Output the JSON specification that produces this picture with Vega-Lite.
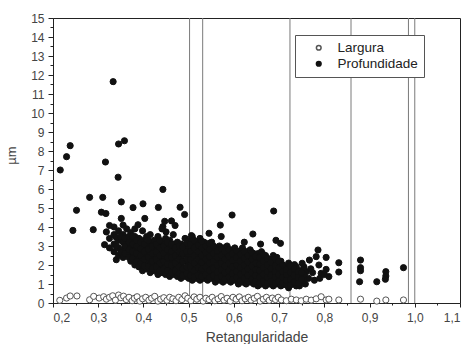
{
  "$schema": "https://vega.github.io/schema/vega-lite/v6.json",
  "width": 407,
  "height": 285,
  "autosize": {"type": "none"},
  "padding": {"left": 53, "top": 18, "right": 7, "bottom": 41},
  "config": {
    "font": "Liberation Sans",
    "view": {"stroke": "#222", "strokeWidth": 1},
    "axis": {"grid": false}
  },
  "data": {"values": [
    {"r":0.216,"v":7.0,"s":"P"},{"r":0.23,"v":7.7,"s":"P"},{"r":0.238,"v":8.28,"s":"P"},{"r":0.333,"v":11.65,"s":"P"},
    {"r":0.316,"v":7.42,"s":"P"},{"r":0.345,"v":8.37,"s":"P"},{"r":0.358,"v":8.54,"s":"P"},{"r":0.344,"v":6.62,"s":"P"},
    {"r":0.281,"v":5.56,"s":"P"},{"r":0.31,"v":5.56,"s":"P"},{"r":0.443,"v":5.98,"s":"P"},{"r":0.252,"v":4.88,"s":"P"},
    {"r":0.244,"v":3.82,"s":"P"},{"r":0.289,"v":3.86,"s":"P"},{"r":0.351,"v":5.32,"s":"P"},{"r":0.377,"v":5.02,"s":"P"},
    {"r":0.399,"v":5.22,"s":"P"},{"r":0.433,"v":5.03,"s":"P"},{"r":0.481,"v":5.04,"s":"P"},{"r":0.491,"v":4.66,"s":"P"},
    {"r":0.307,"v":4.78,"s":"P"},{"r":0.317,"v":4.71,"s":"P"},{"r":0.34,"v":2.28,"s":"P"},{"r":0.325,"v":4.08,"s":"P"},
    {"r":0.351,"v":4.45,"s":"P"},{"r":0.403,"v":4.45,"s":"P"},{"r":0.388,"v":4.12,"s":"P"},{"r":0.447,"v":4.3,"s":"P"},
    {"r":0.462,"v":4.32,"s":"P"},{"r":0.47,"v":4.08,"s":"P"},{"r":0.45,"v":3.74,"s":"P"},{"r":0.314,"v":3.07,"s":"P"},
    {"r":0.318,"v":3.74,"s":"P"},{"r":0.443,"v":4.02,"s":"P"},
    {"r":0.596,"v":4.63,"s":"P"},{"r":0.688,"v":4.84,"s":"P"},{"r":0.57,"v":4.1,"s":"P"},{"r":0.545,"v":3.67,"s":"P"},
    {"r":0.642,"v":3.63,"s":"P"},{"r":0.623,"v":3.2,"s":"P"},{"r":0.659,"v":3.1,"s":"P"},{"r":0.693,"v":3.3,"s":"P"},
    {"r":0.703,"v":3.14,"s":"P"},{"r":0.572,"v":3.5,"s":"P"},{"r":0.506,"v":3.55,"s":"P"},
    {"r":0.734,"v":2.02,"s":"P"},{"r":0.767,"v":2.26,"s":"P"},{"r":0.782,"v":2.44,"s":"P"},{"r":0.786,"v":2.79,"s":"P"},
    {"r":0.804,"v":2.4,"s":"P"},{"r":0.751,"v":2.09,"s":"P"},{"r":0.832,"v":2.12,"s":"P"},{"r":0.832,"v":1.63,"s":"P"},
    {"r":0.788,"v":2.0,"s":"P"},{"r":0.804,"v":1.77,"s":"P"},{"r":0.81,"v":1.39,"s":"P"},{"r":0.793,"v":1.56,"s":"P"},
    {"r":0.774,"v":1.6,"s":"P"},{"r":0.76,"v":1.65,"s":"P"},{"r":0.765,"v":1.3,"s":"P"},{"r":0.778,"v":1.2,"s":"P"},
    {"r":0.79,"v":1.3,"s":"P"},{"r":0.77,"v":1.8,"s":"P"},{"r":0.758,"v":1.0,"s":"P"},{"r":0.745,"v":0.9,"s":"P"},{"r":0.8,"v":1.5,"s":"P"},
    {"r":0.88,"v":2.26,"s":"P"},{"r":0.88,"v":1.86,"s":"P"},{"r":0.88,"v":1.7,"s":"P"},{"r":0.878,"v":1.12,"s":"P"},
    {"r":0.916,"v":1.12,"s":"P"},{"r":0.936,"v":1.65,"s":"P"},{"r":0.936,"v":1.42,"s":"P"},{"r":0.935,"v":1.25,"s":"P"},{"r":0.975,"v":1.86,"s":"P"},
    {"r":0.325,"v":2.9,"s":"P"},{"r":0.325,"v":3.4,"s":"P"},
    {"r":0.335,"v":2.7,"s":"P"},{"r":0.335,"v":3.1,"s":"P"},{"r":0.335,"v":3.6,"s":"P"},{"r":0.335,"v":4.0,"s":"P"},
    {"r":0.345,"v":2.5,"s":"P"},{"r":0.345,"v":2.9,"s":"P"},{"r":0.345,"v":3.3,"s":"P"},{"r":0.345,"v":3.8,"s":"P"},
    {"r":0.355,"v":2.4,"s":"P"},{"r":0.355,"v":2.8,"s":"P"},{"r":0.355,"v":3.2,"s":"P"},{"r":0.355,"v":3.6,"s":"P"},{"r":0.355,"v":4.1,"s":"P"},
    {"r":0.363,"v":2.6,"s":"P"},{"r":0.363,"v":3.0,"s":"P"},{"r":0.363,"v":3.4,"s":"P"},{"r":0.363,"v":3.9,"s":"P"},
    {"r":0.372,"v":2.2,"s":"P"},{"r":0.372,"v":2.5,"s":"P"},{"r":0.372,"v":2.9,"s":"P"},{"r":0.372,"v":3.3,"s":"P"},{"r":0.372,"v":3.7,"s":"P"},
    {"r":0.381,"v":2.0,"s":"P"},{"r":0.381,"v":2.4,"s":"P"},{"r":0.381,"v":2.8,"s":"P"},{"r":0.381,"v":3.2,"s":"P"},{"r":0.381,"v":3.5,"s":"P"},{"r":0.381,"v":3.9,"s":"P"},
    {"r":0.39,"v":1.9,"s":"P"},{"r":0.39,"v":2.3,"s":"P"},{"r":0.39,"v":2.7,"s":"P"},{"r":0.39,"v":3.0,"s":"P"},{"r":0.39,"v":3.4,"s":"P"},
    {"r":0.398,"v":1.7,"s":"P"},{"r":0.398,"v":2.1,"s":"P"},{"r":0.398,"v":2.5,"s":"P"},{"r":0.398,"v":2.9,"s":"P"},{"r":0.398,"v":3.3,"s":"P"},{"r":0.398,"v":3.8,"s":"P"},
    {"r":0.407,"v":1.8,"s":"P"},{"r":0.407,"v":2.2,"s":"P"},{"r":0.407,"v":2.6,"s":"P"},{"r":0.407,"v":3.0,"s":"P"},{"r":0.407,"v":3.5,"s":"P"},
    {"r":0.415,"v":1.6,"s":"P"},{"r":0.415,"v":2.0,"s":"P"},{"r":0.415,"v":2.4,"s":"P"},{"r":0.415,"v":2.8,"s":"P"},{"r":0.415,"v":3.2,"s":"P"},{"r":0.415,"v":3.6,"s":"P"},
    {"r":0.424,"v":1.7,"s":"P"},{"r":0.424,"v":2.1,"s":"P"},{"r":0.424,"v":2.5,"s":"P"},{"r":0.424,"v":2.9,"s":"P"},{"r":0.424,"v":3.3,"s":"P"},
    {"r":0.432,"v":1.5,"s":"P"},{"r":0.432,"v":1.9,"s":"P"},{"r":0.432,"v":2.3,"s":"P"},{"r":0.432,"v":2.7,"s":"P"},{"r":0.432,"v":3.1,"s":"P"},{"r":0.432,"v":3.5,"s":"P"},
    {"r":0.441,"v":1.6,"s":"P"},{"r":0.441,"v":2.0,"s":"P"},{"r":0.441,"v":2.4,"s":"P"},{"r":0.441,"v":2.8,"s":"P"},{"r":0.441,"v":3.2,"s":"P"},{"r":0.441,"v":3.9,"s":"P"},
    {"r":0.449,"v":1.5,"s":"P"},{"r":0.449,"v":1.9,"s":"P"},{"r":0.449,"v":2.2,"s":"P"},{"r":0.449,"v":2.6,"s":"P"},{"r":0.449,"v":3.0,"s":"P"},{"r":0.449,"v":3.4,"s":"P"},
    {"r":0.458,"v":1.4,"s":"P"},{"r":0.458,"v":1.8,"s":"P"},{"r":0.458,"v":2.2,"s":"P"},{"r":0.458,"v":2.5,"s":"P"},{"r":0.458,"v":2.9,"s":"P"},{"r":0.458,"v":3.3,"s":"P"},
    {"r":0.466,"v":1.5,"s":"P"},{"r":0.466,"v":1.9,"s":"P"},{"r":0.466,"v":2.3,"s":"P"},{"r":0.466,"v":2.7,"s":"P"},{"r":0.466,"v":3.1,"s":"P"},{"r":0.466,"v":3.6,"s":"P"},
    {"r":0.475,"v":1.4,"s":"P"},{"r":0.475,"v":1.7,"s":"P"},{"r":0.475,"v":2.1,"s":"P"},{"r":0.475,"v":2.5,"s":"P"},{"r":0.475,"v":2.9,"s":"P"},{"r":0.475,"v":3.2,"s":"P"},
    {"r":0.483,"v":1.3,"s":"P"},{"r":0.483,"v":1.6,"s":"P"},{"r":0.483,"v":2.0,"s":"P"},{"r":0.483,"v":2.4,"s":"P"},{"r":0.483,"v":2.8,"s":"P"},{"r":0.483,"v":3.1,"s":"P"},
    {"r":0.492,"v":1.4,"s":"P"},{"r":0.492,"v":1.8,"s":"P"},{"r":0.492,"v":2.2,"s":"P"},{"r":0.492,"v":2.6,"s":"P"},{"r":0.492,"v":3.0,"s":"P"},{"r":0.492,"v":3.4,"s":"P"},
    {"r":0.5,"v":1.3,"s":"P"},{"r":0.5,"v":1.7,"s":"P"},{"r":0.5,"v":2.1,"s":"P"},{"r":0.5,"v":2.5,"s":"P"},{"r":0.5,"v":2.9,"s":"P"},{"r":0.5,"v":3.3,"s":"P"},
    {"r":0.508,"v":1.2,"s":"P"},{"r":0.508,"v":1.5,"s":"P"},{"r":0.508,"v":1.9,"s":"P"},{"r":0.508,"v":2.3,"s":"P"},{"r":0.508,"v":2.7,"s":"P"},{"r":0.508,"v":3.1,"s":"P"},{"r":0.508,"v":3.5,"s":"P"},
    {"r":0.517,"v":1.3,"s":"P"},{"r":0.517,"v":1.7,"s":"P"},{"r":0.517,"v":2.1,"s":"P"},{"r":0.517,"v":2.5,"s":"P"},{"r":0.517,"v":2.9,"s":"P"},{"r":0.517,"v":3.2,"s":"P"},
    {"r":0.525,"v":1.2,"s":"P"},{"r":0.525,"v":1.6,"s":"P"},{"r":0.525,"v":2.0,"s":"P"},{"r":0.525,"v":2.3,"s":"P"},{"r":0.525,"v":2.7,"s":"P"},{"r":0.525,"v":3.1,"s":"P"},{"r":0.525,"v":3.4,"s":"P"},
    {"r":0.534,"v":1.3,"s":"P"},{"r":0.534,"v":1.7,"s":"P"},{"r":0.534,"v":2.1,"s":"P"},{"r":0.534,"v":2.5,"s":"P"},{"r":0.534,"v":2.8,"s":"P"},{"r":0.534,"v":3.2,"s":"P"},
    {"r":0.542,"v":1.2,"s":"P"},{"r":0.542,"v":1.5,"s":"P"},{"r":0.542,"v":1.9,"s":"P"},{"r":0.542,"v":2.3,"s":"P"},{"r":0.542,"v":2.6,"s":"P"},{"r":0.542,"v":3.0,"s":"P"},
    {"r":0.551,"v":1.3,"s":"P"},{"r":0.551,"v":1.6,"s":"P"},{"r":0.551,"v":2.0,"s":"P"},{"r":0.551,"v":2.4,"s":"P"},{"r":0.551,"v":2.8,"s":"P"},{"r":0.551,"v":3.2,"s":"P"},
    {"r":0.559,"v":1.1,"s":"P"},{"r":0.559,"v":1.5,"s":"P"},{"r":0.559,"v":1.8,"s":"P"},{"r":0.559,"v":2.2,"s":"P"},{"r":0.559,"v":2.6,"s":"P"},{"r":0.559,"v":2.9,"s":"P"},
    {"r":0.568,"v":1.2,"s":"P"},{"r":0.568,"v":1.6,"s":"P"},{"r":0.568,"v":1.9,"s":"P"},{"r":0.568,"v":2.3,"s":"P"},{"r":0.568,"v":2.7,"s":"P"},{"r":0.568,"v":3.0,"s":"P"},
    {"r":0.576,"v":1.1,"s":"P"},{"r":0.576,"v":1.4,"s":"P"},{"r":0.576,"v":1.8,"s":"P"},{"r":0.576,"v":2.1,"s":"P"},{"r":0.576,"v":2.5,"s":"P"},{"r":0.576,"v":2.9,"s":"P"},
    {"r":0.585,"v":1.2,"s":"P"},{"r":0.585,"v":1.5,"s":"P"},{"r":0.585,"v":1.9,"s":"P"},{"r":0.585,"v":2.3,"s":"P"},{"r":0.585,"v":2.6,"s":"P"},{"r":0.585,"v":3.0,"s":"P"},
    {"r":0.593,"v":1.1,"s":"P"},{"r":0.593,"v":1.4,"s":"P"},{"r":0.593,"v":1.7,"s":"P"},{"r":0.593,"v":2.1,"s":"P"},{"r":0.593,"v":2.4,"s":"P"},{"r":0.593,"v":2.8,"s":"P"},
    {"r":0.602,"v":1.2,"s":"P"},{"r":0.602,"v":1.5,"s":"P"},{"r":0.602,"v":1.8,"s":"P"},{"r":0.602,"v":2.2,"s":"P"},{"r":0.602,"v":2.6,"s":"P"},{"r":0.602,"v":2.9,"s":"P"},
    {"r":0.61,"v":1.0,"s":"P"},{"r":0.61,"v":1.3,"s":"P"},{"r":0.61,"v":1.7,"s":"P"},{"r":0.61,"v":2.0,"s":"P"},{"r":0.61,"v":2.4,"s":"P"},{"r":0.61,"v":2.7,"s":"P"},
    {"r":0.619,"v":1.1,"s":"P"},{"r":0.619,"v":1.5,"s":"P"},{"r":0.619,"v":1.8,"s":"P"},{"r":0.619,"v":2.2,"s":"P"},{"r":0.619,"v":2.5,"s":"P"},{"r":0.619,"v":2.9,"s":"P"},
    {"r":0.627,"v":1.0,"s":"P"},{"r":0.627,"v":1.3,"s":"P"},{"r":0.627,"v":1.6,"s":"P"},{"r":0.627,"v":2.0,"s":"P"},{"r":0.627,"v":2.3,"s":"P"},{"r":0.627,"v":2.7,"s":"P"},
    {"r":0.636,"v":1.1,"s":"P"},{"r":0.636,"v":1.4,"s":"P"},{"r":0.636,"v":1.8,"s":"P"},{"r":0.636,"v":2.1,"s":"P"},{"r":0.636,"v":2.5,"s":"P"},{"r":0.636,"v":2.8,"s":"P"},
    {"r":0.644,"v":1.0,"s":"P"},{"r":0.644,"v":1.3,"s":"P"},{"r":0.644,"v":1.6,"s":"P"},{"r":0.644,"v":1.9,"s":"P"},{"r":0.644,"v":2.3,"s":"P"},{"r":0.644,"v":2.6,"s":"P"},
    {"r":0.653,"v":0.9,"s":"P"},{"r":0.653,"v":1.2,"s":"P"},{"r":0.653,"v":1.5,"s":"P"},{"r":0.653,"v":1.9,"s":"P"},{"r":0.653,"v":2.2,"s":"P"},{"r":0.653,"v":2.6,"s":"P"},
    {"r":0.661,"v":1.0,"s":"P"},{"r":0.661,"v":1.3,"s":"P"},{"r":0.661,"v":1.7,"s":"P"},{"r":0.661,"v":2.0,"s":"P"},{"r":0.661,"v":2.4,"s":"P"},{"r":0.661,"v":2.7,"s":"P"},
    {"r":0.67,"v":0.9,"s":"P"},{"r":0.67,"v":1.2,"s":"P"},{"r":0.67,"v":1.5,"s":"P"},{"r":0.67,"v":1.8,"s":"P"},{"r":0.67,"v":2.2,"s":"P"},{"r":0.67,"v":2.5,"s":"P"},
    {"r":0.678,"v":1.0,"s":"P"},{"r":0.678,"v":1.3,"s":"P"},{"r":0.678,"v":1.6,"s":"P"},{"r":0.678,"v":2.0,"s":"P"},{"r":0.678,"v":2.3,"s":"P"},
    {"r":0.687,"v":0.9,"s":"P"},{"r":0.687,"v":1.2,"s":"P"},{"r":0.687,"v":1.5,"s":"P"},{"r":0.687,"v":1.8,"s":"P"},{"r":0.687,"v":2.1,"s":"P"},{"r":0.687,"v":2.5,"s":"P"},
    {"r":0.695,"v":1.0,"s":"P"},{"r":0.695,"v":1.3,"s":"P"},{"r":0.695,"v":1.7,"s":"P"},{"r":0.695,"v":2.0,"s":"P"},{"r":0.695,"v":2.4,"s":"P"},
    {"r":0.704,"v":0.9,"s":"P"},{"r":0.704,"v":1.2,"s":"P"},{"r":0.704,"v":1.5,"s":"P"},{"r":0.704,"v":1.8,"s":"P"},{"r":0.704,"v":2.2,"s":"P"},
    {"r":0.712,"v":1.0,"s":"P"},{"r":0.712,"v":1.3,"s":"P"},{"r":0.712,"v":1.6,"s":"P"},{"r":0.712,"v":1.9,"s":"P"},
    {"r":0.721,"v":0.8,"s":"P"},{"r":0.721,"v":1.1,"s":"P"},{"r":0.721,"v":1.4,"s":"P"},{"r":0.721,"v":1.8,"s":"P"},{"r":0.721,"v":2.1,"s":"P"},
    {"r":0.729,"v":1.0,"s":"P"},{"r":0.729,"v":1.3,"s":"P"},{"r":0.729,"v":1.6,"s":"P"},
    {"r":0.738,"v":0.9,"s":"P"},{"r":0.738,"v":1.2,"s":"P"},{"r":0.738,"v":1.5,"s":"P"},{"r":0.738,"v":1.9,"s":"P"},
    {"r":0.746,"v":1.1,"s":"P"},{"r":0.746,"v":1.4,"s":"P"},{"r":0.746,"v":1.7,"s":"P"},
    {"r":0.755,"v":1.2,"s":"P"},{"r":0.755,"v":1.5,"s":"P"},{"r":0.755,"v":1.9,"s":"P"},
    {"r":0.34,"v":3.0,"s":"P"},{"r":0.34,"v":3.45,"s":"P"},
    {"r":0.35,"v":2.65,"s":"P"},{"r":0.35,"v":3.5,"s":"P"},
    {"r":0.359,"v":2.6,"s":"P"},{"r":0.359,"v":3.0,"s":"P"},{"r":0.359,"v":3.4,"s":"P"},
    {"r":0.368,"v":2.4,"s":"P"},{"r":0.368,"v":2.8,"s":"P"},{"r":0.368,"v":3.2,"s":"P"},{"r":0.368,"v":3.5,"s":"P"},
    {"r":0.376,"v":2.35,"s":"P"},{"r":0.376,"v":2.7,"s":"P"},{"r":0.376,"v":3.1,"s":"P"},{"r":0.376,"v":3.5,"s":"P"},
    {"r":0.385,"v":2.2,"s":"P"},{"r":0.385,"v":2.6,"s":"P"},{"r":0.385,"v":3.0,"s":"P"},{"r":0.385,"v":3.3,"s":"P"},
    {"r":0.394,"v":2.1,"s":"P"},{"r":0.394,"v":2.5,"s":"P"},{"r":0.394,"v":2.85,"s":"P"},{"r":0.394,"v":3.2,"s":"P"},
    {"r":0.402,"v":1.95,"s":"P"},{"r":0.402,"v":2.3,"s":"P"},{"r":0.402,"v":2.7,"s":"P"},{"r":0.402,"v":3.1,"s":"P"},
    {"r":0.411,"v":1.9,"s":"P"},{"r":0.411,"v":2.4,"s":"P"},{"r":0.411,"v":2.8,"s":"P"},{"r":0.411,"v":3.3,"s":"P"},
    {"r":0.419,"v":1.8,"s":"P"},{"r":0.419,"v":2.2,"s":"P"},{"r":0.419,"v":2.6,"s":"P"},{"r":0.419,"v":3.0,"s":"P"},
    {"r":0.428,"v":1.9,"s":"P"},{"r":0.428,"v":2.3,"s":"P"},{"r":0.428,"v":2.7,"s":"P"},{"r":0.428,"v":3.1,"s":"P"},
    {"r":0.436,"v":1.7,"s":"P"},{"r":0.436,"v":2.1,"s":"P"},{"r":0.436,"v":2.5,"s":"P"},{"r":0.436,"v":2.9,"s":"P"},{"r":0.436,"v":3.3,"s":"P"},
    {"r":0.445,"v":1.8,"s":"P"},{"r":0.445,"v":2.2,"s":"P"},{"r":0.445,"v":2.6,"s":"P"},{"r":0.445,"v":3.0,"s":"P"},
    {"r":0.453,"v":1.7,"s":"P"},{"r":0.453,"v":2.05,"s":"P"},{"r":0.453,"v":2.4,"s":"P"},{"r":0.453,"v":2.8,"s":"P"},{"r":0.453,"v":3.2,"s":"P"},
    {"r":0.462,"v":1.6,"s":"P"},{"r":0.462,"v":2.0,"s":"P"},{"r":0.462,"v":2.4,"s":"P"},{"r":0.462,"v":2.7,"s":"P"},{"r":0.462,"v":3.1,"s":"P"},
    {"r":0.47,"v":1.7,"s":"P"},{"r":0.47,"v":2.1,"s":"P"},{"r":0.47,"v":2.5,"s":"P"},{"r":0.47,"v":2.9,"s":"P"},
    {"r":0.479,"v":1.55,"s":"P"},{"r":0.479,"v":1.9,"s":"P"},{"r":0.479,"v":2.3,"s":"P"},{"r":0.479,"v":2.7,"s":"P"},{"r":0.479,"v":3.0,"s":"P"},
    {"r":0.487,"v":1.45,"s":"P"},{"r":0.487,"v":1.8,"s":"P"},{"r":0.487,"v":2.2,"s":"P"},{"r":0.487,"v":2.6,"s":"P"},{"r":0.487,"v":2.95,"s":"P"},
    {"r":0.496,"v":1.55,"s":"P"},{"r":0.496,"v":1.9,"s":"P"},{"r":0.496,"v":2.3,"s":"P"},{"r":0.496,"v":2.7,"s":"P"},{"r":0.496,"v":3.15,"s":"P"},
    {"r":0.504,"v":1.45,"s":"P"},{"r":0.504,"v":1.9,"s":"P"},{"r":0.504,"v":2.3,"s":"P"},{"r":0.504,"v":2.7,"s":"P"},{"r":0.504,"v":3.1,"s":"P"},
    {"r":0.512,"v":1.35,"s":"P"},{"r":0.512,"v":1.7,"s":"P"},{"r":0.512,"v":2.1,"s":"P"},{"r":0.512,"v":2.5,"s":"P"},{"r":0.512,"v":2.9,"s":"P"},{"r":0.512,"v":3.3,"s":"P"},
    {"r":0.521,"v":1.45,"s":"P"},{"r":0.521,"v":1.85,"s":"P"},{"r":0.521,"v":2.3,"s":"P"},{"r":0.521,"v":2.7,"s":"P"},{"r":0.521,"v":3.05,"s":"P"},
    {"r":0.529,"v":1.4,"s":"P"},{"r":0.529,"v":1.8,"s":"P"},{"r":0.529,"v":2.15,"s":"P"},{"r":0.529,"v":2.5,"s":"P"},{"r":0.529,"v":2.9,"s":"P"},{"r":0.529,"v":3.25,"s":"P"},
    {"r":0.538,"v":1.5,"s":"P"},{"r":0.538,"v":1.9,"s":"P"},{"r":0.538,"v":2.3,"s":"P"},{"r":0.538,"v":2.65,"s":"P"},{"r":0.538,"v":3.0,"s":"P"},
    {"r":0.546,"v":1.35,"s":"P"},{"r":0.546,"v":1.7,"s":"P"},{"r":0.546,"v":2.1,"s":"P"},{"r":0.546,"v":2.45,"s":"P"},{"r":0.546,"v":2.8,"s":"P"},{"r":0.546,"v":3.15,"s":"P"},
    {"r":0.555,"v":1.45,"s":"P"},{"r":0.555,"v":1.8,"s":"P"},{"r":0.555,"v":2.2,"s":"P"},{"r":0.555,"v":2.6,"s":"P"},{"r":0.555,"v":3.0,"s":"P"},
    {"r":0.563,"v":1.3,"s":"P"},{"r":0.563,"v":1.65,"s":"P"},{"r":0.563,"v":2.0,"s":"P"},{"r":0.563,"v":2.4,"s":"P"},{"r":0.563,"v":2.75,"s":"P"},
    {"r":0.572,"v":1.4,"s":"P"},{"r":0.572,"v":1.75,"s":"P"},{"r":0.572,"v":2.1,"s":"P"},{"r":0.572,"v":2.5,"s":"P"},{"r":0.572,"v":2.85,"s":"P"},
    {"r":0.58,"v":1.25,"s":"P"},{"r":0.58,"v":1.6,"s":"P"},{"r":0.58,"v":1.95,"s":"P"},{"r":0.58,"v":2.3,"s":"P"},{"r":0.58,"v":2.7,"s":"P"},
    {"r":0.589,"v":1.35,"s":"P"},{"r":0.589,"v":1.7,"s":"P"},{"r":0.589,"v":2.1,"s":"P"},{"r":0.589,"v":2.45,"s":"P"},{"r":0.589,"v":2.8,"s":"P"},
    {"r":0.597,"v":1.25,"s":"P"},{"r":0.597,"v":1.55,"s":"P"},{"r":0.597,"v":1.9,"s":"P"},{"r":0.597,"v":2.25,"s":"P"},{"r":0.597,"v":2.6,"s":"P"},
    {"r":0.606,"v":1.35,"s":"P"},{"r":0.606,"v":1.65,"s":"P"},{"r":0.606,"v":2.0,"s":"P"},{"r":0.606,"v":2.4,"s":"P"},{"r":0.606,"v":2.75,"s":"P"},
    {"r":0.614,"v":1.15,"s":"P"},{"r":0.614,"v":1.5,"s":"P"},{"r":0.614,"v":1.85,"s":"P"},{"r":0.614,"v":2.2,"s":"P"},{"r":0.614,"v":2.55,"s":"P"},
    {"r":0.623,"v":1.3,"s":"P"},{"r":0.623,"v":1.65,"s":"P"},{"r":0.623,"v":2.0,"s":"P"},{"r":0.623,"v":2.35,"s":"P"},{"r":0.623,"v":2.7,"s":"P"},
    {"r":0.631,"v":1.15,"s":"P"},{"r":0.631,"v":1.45,"s":"P"},{"r":0.631,"v":1.8,"s":"P"},{"r":0.631,"v":2.15,"s":"P"},{"r":0.631,"v":2.5,"s":"P"},
    {"r":0.64,"v":1.25,"s":"P"},{"r":0.64,"v":1.6,"s":"P"},{"r":0.64,"v":1.95,"s":"P"},{"r":0.64,"v":2.3,"s":"P"},{"r":0.64,"v":2.65,"s":"P"},
    {"r":0.648,"v":1.15,"s":"P"},{"r":0.648,"v":1.45,"s":"P"},{"r":0.648,"v":1.75,"s":"P"},{"r":0.648,"v":2.1,"s":"P"},{"r":0.648,"v":2.45,"s":"P"},
    {"r":0.657,"v":1.05,"s":"P"},{"r":0.657,"v":1.35,"s":"P"},{"r":0.657,"v":1.7,"s":"P"},{"r":0.657,"v":2.05,"s":"P"},{"r":0.657,"v":2.4,"s":"P"},
    {"r":0.665,"v":1.15,"s":"P"},{"r":0.665,"v":1.5,"s":"P"},{"r":0.665,"v":1.85,"s":"P"},{"r":0.665,"v":2.2,"s":"P"},{"r":0.665,"v":2.55,"s":"P"},
    {"r":0.674,"v":1.05,"s":"P"},{"r":0.674,"v":1.35,"s":"P"},{"r":0.674,"v":1.65,"s":"P"},{"r":0.674,"v":2.0,"s":"P"},{"r":0.674,"v":2.35,"s":"P"},
    {"r":0.682,"v":1.15,"s":"P"},{"r":0.682,"v":1.45,"s":"P"},{"r":0.682,"v":1.8,"s":"P"},{"r":0.682,"v":2.15,"s":"P"},
    {"r":0.691,"v":1.05,"s":"P"},{"r":0.691,"v":1.35,"s":"P"},{"r":0.691,"v":1.65,"s":"P"},{"r":0.691,"v":1.95,"s":"P"},{"r":0.691,"v":2.3,"s":"P"},
    {"r":0.699,"v":1.15,"s":"P"},{"r":0.699,"v":1.5,"s":"P"},{"r":0.699,"v":1.85,"s":"P"},{"r":0.699,"v":2.2,"s":"P"},
    {"r":0.708,"v":1.05,"s":"P"},{"r":0.708,"v":1.35,"s":"P"},{"r":0.708,"v":1.65,"s":"P"},{"r":0.708,"v":2.0,"s":"P"},
    {"r":0.716,"v":0.95,"s":"P"},{"r":0.716,"v":1.2,"s":"P"},{"r":0.716,"v":1.5,"s":"P"},{"r":0.716,"v":1.75,"s":"P"},
    {"r":0.725,"v":0.95,"s":"P"},{"r":0.725,"v":1.25,"s":"P"},{"r":0.725,"v":1.6,"s":"P"},{"r":0.725,"v":1.95,"s":"P"},
    {"r":0.733,"v":1.1,"s":"P"},{"r":0.733,"v":1.45,"s":"P"},{"r":0.733,"v":1.8,"s":"P"},
    {"r":0.742,"v":1.05,"s":"P"},{"r":0.742,"v":1.35,"s":"P"},{"r":0.742,"v":1.65,"s":"P"},
    {"r":0.75,"v":1.25,"s":"P"},{"r":0.75,"v":1.6,"s":"P"},
    {"r":0.215,"v":0.14,"s":"L"},{"r":0.23,"v":0.26,"s":"L"},{"r":0.238,"v":0.37,"s":"L"},{"r":0.253,"v":0.37,"s":"L"},
    {"r":0.281,"v":0.17,"s":"L"},{"r":0.29,"v":0.35,"s":"L"},{"r":0.302,"v":0.26,"s":"L"},{"r":0.312,"v":0.33,"s":"L"},
    {"r":0.318,"v":0.2,"s":"L"},{"r":0.325,"v":0.3,"s":"L"},{"r":0.332,"v":0.38,"s":"L"},{"r":0.338,"v":0.15,"s":"L"},
    {"r":0.345,"v":0.42,"s":"L"},{"r":0.35,"v":0.28,"s":"L"},{"r":0.356,"v":0.36,"s":"L"},{"r":0.362,"v":0.18,"s":"L"},
    {"r":0.368,"v":0.3,"s":"L"},{"r":0.375,"v":0.12,"s":"L"},{"r":0.38,"v":0.25,"s":"L"},{"r":0.386,"v":0.33,"s":"L"},
    {"r":0.392,"v":0.1,"s":"L"},{"r":0.398,"v":0.22,"s":"L"},{"r":0.405,"v":0.3,"s":"L"},{"r":0.412,"v":0.15,"s":"L"},
    {"r":0.418,"v":0.25,"s":"L"},{"r":0.425,"v":0.35,"s":"L"},{"r":0.432,"v":0.1,"s":"L"},{"r":0.438,"v":0.2,"s":"L"},
    {"r":0.445,"v":0.28,"s":"L"},{"r":0.452,"v":0.14,"s":"L"},{"r":0.458,"v":0.3,"s":"L"},{"r":0.465,"v":0.22,"s":"L"},
    {"r":0.472,"v":0.12,"s":"L"},{"r":0.478,"v":0.3,"s":"L"},{"r":0.485,"v":0.18,"s":"L"},{"r":0.492,"v":0.38,"s":"L"},
    {"r":0.498,"v":0.25,"s":"L"},{"r":0.505,"v":0.12,"s":"L"},{"r":0.512,"v":0.32,"s":"L"},{"r":0.518,"v":0.2,"s":"L"},
    {"r":0.525,"v":0.3,"s":"L"},{"r":0.532,"v":0.1,"s":"L"},{"r":0.538,"v":0.25,"s":"L"},{"r":0.545,"v":0.18,"s":"L"},
    {"r":0.552,"v":0.3,"s":"L"},{"r":0.558,"v":0.12,"s":"L"},{"r":0.565,"v":0.22,"s":"L"},{"r":0.572,"v":0.34,"s":"L"},
    {"r":0.578,"v":0.15,"s":"L"},{"r":0.585,"v":0.25,"s":"L"},{"r":0.592,"v":0.1,"s":"L"},{"r":0.598,"v":0.3,"s":"L"},
    {"r":0.605,"v":0.2,"s":"L"},{"r":0.612,"v":0.32,"s":"L"},{"r":0.618,"v":0.12,"s":"L"},{"r":0.625,"v":0.22,"s":"L"},
    {"r":0.632,"v":0.3,"s":"L"},{"r":0.638,"v":0.15,"s":"L"},{"r":0.645,"v":0.25,"s":"L"},{"r":0.652,"v":0.35,"s":"L"},
    {"r":0.658,"v":0.1,"s":"L"},{"r":0.665,"v":0.2,"s":"L"},{"r":0.672,"v":0.3,"s":"L"},{"r":0.678,"v":0.14,"s":"L"},
    {"r":0.685,"v":0.26,"s":"L"},{"r":0.692,"v":0.18,"s":"L"},{"r":0.698,"v":0.3,"s":"L"},{"r":0.705,"v":0.16,"s":"L"},
    {"r":0.716,"v":0.12,"s":"L"},{"r":0.727,"v":0.2,"s":"L"},{"r":0.738,"v":0.16,"s":"L"},{"r":0.749,"v":0.12,"s":"L"},
    {"r":0.76,"v":0.2,"s":"L"},{"r":0.771,"v":0.15,"s":"L"},{"r":0.782,"v":0.22,"s":"L"},{"r":0.793,"v":0.33,"s":"L"},
    {"r":0.804,"v":0.16,"s":"L"},{"r":0.81,"v":0.2,"s":"L"},{"r":0.832,"v":0.16,"s":"L"},{"r":0.88,"v":0.2,"s":"L"},
    {"r":0.916,"v":0.1,"s":"L"},{"r":0.936,"v":0.16,"s":"L"},{"r":0.975,"v":0.16,"s":"L"}
  ]},
  "layer": [
    {
      "data": {"values": [{"r":0.502},{"r":0.531},{"r":0.724},{"r":0.859},{"r":0.986},{"r":1.0}]},
      "mark": {"type": "rule", "color": "#7a7a7a", "strokeWidth": 1},
      "encoding": {
        "x": {"field": "r", "type": "quantitative", "scale": {"domain": [0.2, 1.1], "nice": false, "zero": false}, "axis": null}
      }
    },
    {
      "mark": {"type": "point", "shape": "circle", "filled": true, "size": 38, "strokeWidth": 1, "opacity": 1},
      "encoding": {
        "x": {"field": "r", "type": "quantitative", "scale": {"domain": [0.2, 1.1], "nice": false, "zero": false},
          "axis": {"orient": "bottom", "values": [0.2,0.3,0.4,0.5,0.6,0.7,0.8,0.9,1.0,1.1], "labelExpr": "replace(format(datum.value,'.1f'),'.',',')",
            "tickSize": 4, "tickColor": "#222", "domainColor": "#222", "labelFontSize": 12, "labelColor": "#444", "labelPadding": 5,
            "title": "Retangularidade", "titleFontSize": 14, "titleFontWeight": "normal", "titleColor": "#444", "titleBaseline": "top", "titleY": 27}},
        "y": {"field": "v", "type": "quantitative", "scale": {"domain": [0, 15], "nice": false, "zero": false},
          "axis": {"orient": "left", "values": [0,1,2,3,4,5,6,7,8,9,10,11,12,13,14,15],
            "tickSize": 5, "tickColor": "#222", "domainColor": "#222", "labelFontSize": 12, "labelColor": "#444", "labelPadding": 4,
            "title": "µm", "titleFontSize": 13, "titleFontWeight": "normal", "titleColor": "#444", "titleAngle": 270,
            "titleX": -42, "titleY": 137, "titleAlign": "center", "titleBaseline": "middle"}},
        "fill": {"field": "s", "type": "nominal", "scale": {"domain": ["L", "P"], "range": ["#ffffff", "#111111"]},
          "legend": {"orient": "none", "legendX": 242, "legendY": 17, "title": null, "strokeColor": "#555", "fillColor": "#ffffff",
            "padding": 6, "symbolOffset": 11, "labelFontSize": 13.5, "labelColor": "#222", "symbolSize": 22, "rowPadding": 1, "labelOffset": 12,
            "labelExpr": "datum.label == 'L' ? 'Largura' : 'Profundidade'"}},
        "stroke": {"field": "s", "type": "nominal", "scale": {"domain": ["L", "P"], "range": ["#555555", "#111111"]},
          "legend": {"orient": "none", "legendX": 242, "legendY": 17, "title": null, "strokeColor": "#555", "fillColor": "#ffffff",
            "padding": 6, "symbolOffset": 11, "labelFontSize": 13.5, "labelColor": "#222", "symbolSize": 22, "rowPadding": 1, "labelOffset": 12,
            "labelExpr": "datum.label == 'L' ? 'Largura' : 'Profundidade'"}}
      }
    },
    {
      "mark": {"type": "point", "opacity": 0},
      "encoding": {
        "x": {"field": "r", "type": "quantitative", "scale": {"domain": [0.2, 1.1], "nice": false, "zero": false},
          "axis": {"orient": "bottom", "values": [0.25,0.35,0.45,0.55,0.65,0.75,0.85,0.95,1.05], "labels": false, "domain": false, "tickSize": 2, "tickColor": "#222", "title": null}},
        "y": {"field": "v", "type": "quantitative", "scale": {"domain": [0, 15], "nice": false, "zero": false},
          "axis": {"orient": "left", "values": [0.5,1.5,2.5,3.5,4.5,5.5,6.5,7.5,8.5,9.5,10.5,11.5,12.5,13.5,14.5], "labels": false, "domain": false, "tickSize": 3, "tickColor": "#222", "title": null}}
      }
    }
  ],
  "resolve": {"axis": {"x": "independent", "y": "independent"}}
}
